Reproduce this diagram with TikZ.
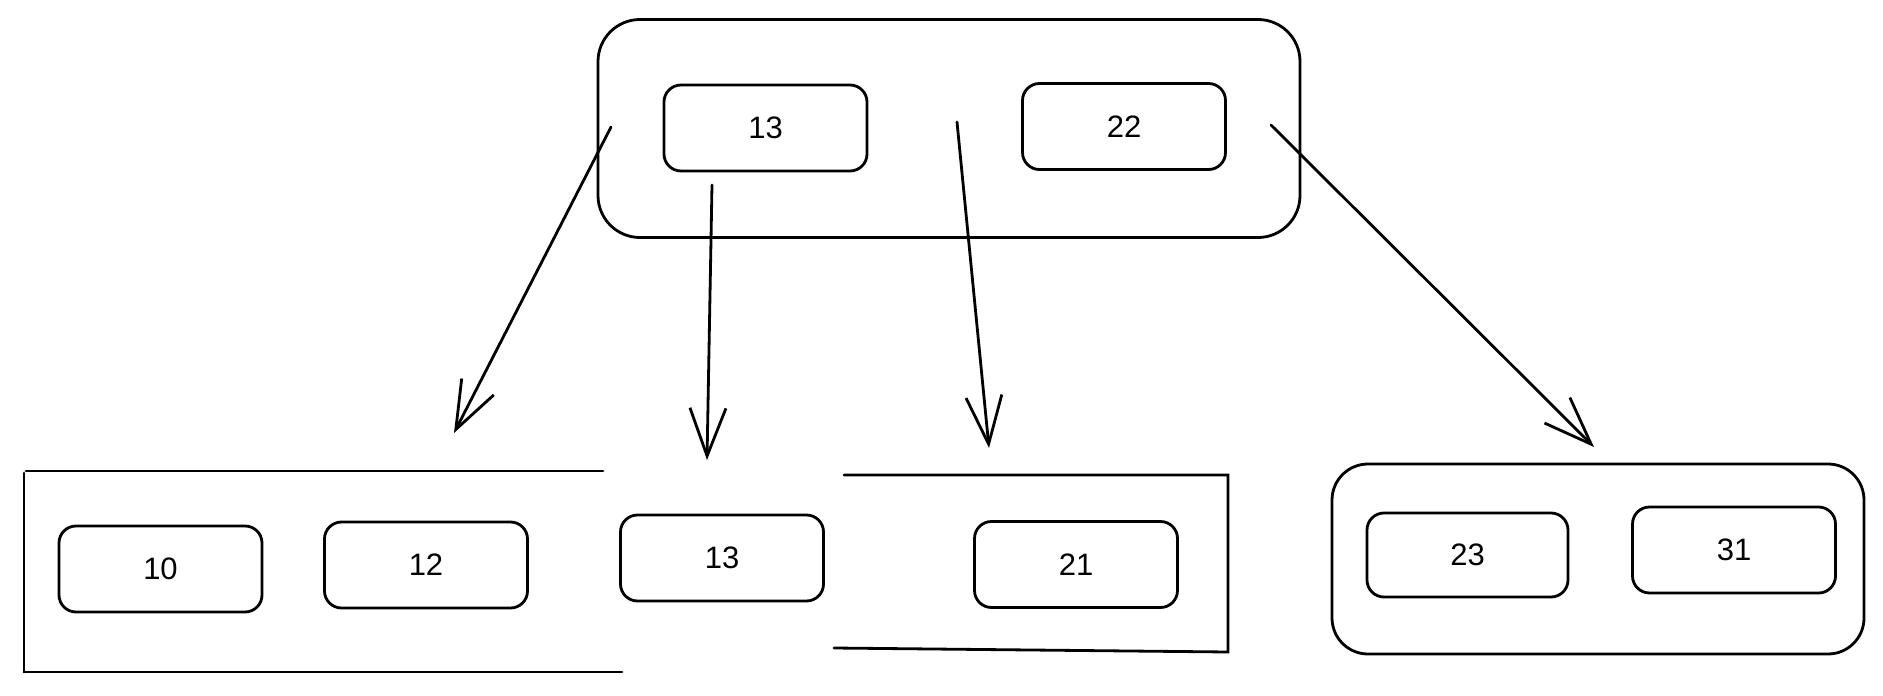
\documentclass[tikz,border=0pt]{standalone}
\usepackage{fontspec}
\setmainfont{Liberation Sans}
\usetikzlibrary{arrows.meta}
\tikzset{
  keybox/.style={draw, line width=2.8pt, rounded corners=17pt, minimum width=203pt, minimum height=86pt, inner sep=0pt, font=\fontsize{31}{34}\selectfont},
  bigbox/.style={draw, line width=2.8pt, inner sep=0pt},
  edgeline/.style={line width=2.8pt, line cap=round},
  link/.style={line width=2.8pt, line cap=round, line join=round, -{Straight Barb[length=48pt, width=36pt, line width=2.8pt]}}
}
\begin{document}
\begin{tikzpicture}[x=1pt, y=-1pt]
\useasboundingbox (0,0) rectangle (1883,696);
% top node
\node[bigbox, rounded corners=42pt, minimum width=702pt, minimum height=218pt] (top) at (949,128.5) {};
\node[keybox] (t13) at (765.5,128) {13};
\node[keybox] (t22) at (1124,126.5) {22};
% bottom left leaf (open on the right)
\coordinate (ltl) at (26,471);
\coordinate (ltr) at (603,471);
\coordinate (lbl) at (24,672);
\coordinate (lbr) at (622,672);
\draw[edgeline] (ltr) -- (ltl);
\draw[edgeline] (24,473) -- (lbl);
\draw[edgeline] (lbl) -- (lbr);
\node[keybox] (b10) at (160.5,569) {10};
\node[keybox] (b12) at (426,565) {12};
% free key
\node[keybox] (b13) at (722,558) {13};
% middle-right leaf (open on the left)
\coordinate (mtl) at (844,475);
\coordinate (mtr) at (1228,475);
\coordinate (mbr) at (1228,652);
\coordinate (mbl) at (834,648);
\draw[edgeline] (mtl) -- (mtr) -- (mbr) -- (mbl);
\node[keybox] (b21) at (1076,564.5) {21};
% right leaf
\node[bigbox, rounded corners=36pt, minimum width=532pt, minimum height=190pt] (right) at (1598,559) {};
\node[keybox, minimum width=201pt, minimum height=84pt] (b23) at (1467.5,555) {23};
\node[keybox] (b31) at (1734,550) {31};
% arrow endpoints
\coordinate (a1s) at (611,127);
\coordinate (a1e) at (454,433);
\coordinate (a2s) at (712,185);
\coordinate (a2e) at (707,460);
\coordinate (a3s) at (957,122);
\coordinate (a3e) at (989,448);
\coordinate (a4s) at (1271,125);
\coordinate (a4e) at (1594,447);
\draw[link] (a1s) -- (a1e);
\draw[link] (a2s) -- (a2e);
\draw[link] (a3s) -- (a3e);
\draw[link] (a4s) -- (a4e);
\end{tikzpicture}
\end{document}
